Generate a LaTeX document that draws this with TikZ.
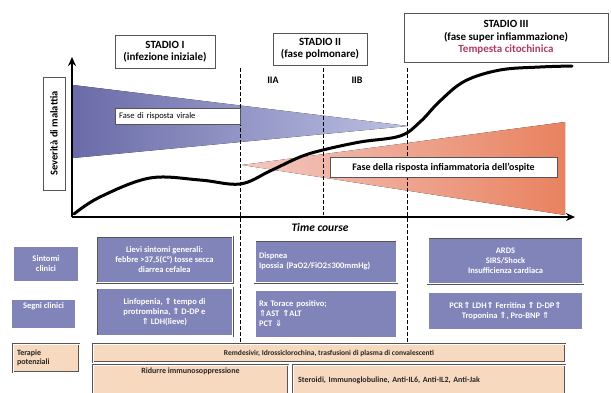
\documentclass[tikz,border=0pt]{standalone}
\usepackage{fontspec}
\setmainfont{Carlito}
\newfontfamily\simb{DejaVu Sans}
\newcommand{\su}{{\simb ⇑}}
\newcommand{\giu}{{\simb ⇓}}
\usetikzlibrary{positioning,arrows.meta}
\definecolor{viola}{HTML}{8184B8}
\definecolor{violascuro}{HTML}{6A6BA8}
\definecolor{violachiaro}{HTML}{BCC0E2}
\definecolor{pesca}{HTML}{F7D9BF}
\definecolor{rosa}{HTML}{F3C8C2}
\definecolor{arancio}{HTML}{E9825F}
\definecolor{cremisi}{HTML}{B23A5E}
\definecolor{bordo}{HTML}{555555}
\tikzset{
  stadiobox/.style={draw=bordo,fill=white,align=center,font=\fontsize{11}{12.5}\selectfont\bfseries,inner sep=1pt},
  fasebox/.style={draw=bordo,fill=white},
  blubox/.style={draw=bordo,double=white,double distance=1.2pt,fill=viola,text=white,
    font=\fontsize{8.5}{10}\selectfont\bfseries,inner sep=2pt},
  terabox/.style={draw=bordo,double=white,double distance=1pt,fill=pesca,text=black!85,
    font=\fontsize{8}{9.5}\selectfont\bfseries,inner sep=2pt},
  fase/.style={dashed,dash pattern=on 4pt off 2pt,line width=0.9pt}
}
\begin{document}
\begin{tikzpicture}[x=1pt,y=-1pt]
\useasboundingbox (0,0) rectangle (611,392);
% fasi
\fill[left color=violascuro,right color=violachiaro] (73,85) -- (408,126) -- (73,158) -- cycle;
\fill[left color=rosa,right color=arancio] (242,165) -- (565,122) -- (565,215) -- cycle;
% linee di stadio
\coordinate (s1a) at (240,68); \coordinate (s1b) at (240,345);
\coordinate (s2a) at (323,68); \coordinate (s2b) at (323,215);
\coordinate (s3a) at (407,68); \coordinate (s3b) at (407,345);
\draw[fase] (s1a) -- (s1b);
\draw[fase] (s2a) -- (s2b);
\draw[fase] (s3a) -- (s3b);
% assi
\coordinate (O) at (72,217);
\coordinate (ytop) at (72,57);
\coordinate (xend) at (575,217);
\draw[line width=2.6pt,-{Stealth[length=9pt,width=8pt]}] (O) -- (ytop);
\draw[line width=2.6pt,-{Stealth[length=9pt,width=8pt]}] (O) -- (xend);
% severita
\draw[line width=3pt,line cap=round] plot[smooth,tension=0.6] coordinates {(74,214) (100,197) (150,178) (200,180) (240,184)
  (270,171) (300,157) (323,150) (360,142) (400,136) (420,122) (440,101) (465,81) (500,70) (540,67) (572,66)};
% etichette
\node[stadiobox,minimum width=100,minimum height=33] (st1) at (165,51.5) {STADIO I\\(infezione iniziale)};
\node[stadiobox,minimum width=94,minimum height=32] (st2) at (320,49) {STADIO II\\(fase polmonare)};
\node[stadiobox,minimum width=204,minimum height=49] (st3) at (506,37.5) {STADIO III\\(fase super infiammazione)\\{\color{cremisi}Tempesta citochinica}};
\node[font=\fontsize{10}{11}\selectfont\bfseries] (iia) at (273,80) {IIA};
\node[font=\fontsize{10}{11}\selectfont\bfseries] (iib) at (357,80) {IIB};
\node[draw=bordo,fill=white,rotate=90,minimum width=113,minimum height=22,font=\fontsize{10.5}{12}\selectfont\bfseries] (sev) at (54,133.5) {Severità di malattia};
\node[fasebox,minimum width=125,minimum height=16,anchor=west,text width=117,font=\fontsize{8.5}{10}\selectfont] (virale) at (115,116) {Fase di risposta virale};
\node[fasebox,minimum width=227,minimum height=20,font=\fontsize{10}{11}\selectfont\bfseries] (infiam) at (443.5,167.5) {Fase della risposta infiammatoria dell'ospite};
\node[font=\fontsize{11.5}{13}\selectfont\bfseries\itshape] (time) at (320,228) {Time course};
% tabella
\node[blubox,minimum width=66,minimum height=36,align=center] (sintomi) at (46,264) {Sintomi\\clinici};
\node[blubox,minimum width=65,minimum height=30,align=center] (segni) at (43.5,314) {Segni clinici\\[7pt]};
\node[terabox,minimum width=66,minimum height=28,align=left,text width=58] (terapie) at (46,358) {Terapie\\potenziali};
\node[blubox,minimum width=136,minimum height=46,align=center] (sint1) at (164.5,259.5) {Lievi sintomi generali:\\febbre >37,5(C°) tosse secca\\diarrea cefalea};
\node[blubox,minimum width=136,minimum height=48,align=center] (segn1) at (164.5,312) {Linfopenia, \su\ tempo di\\protrombina, \su\ D-DP e\\\su\ LDH(lieve)};
\node[blubox,minimum width=142,minimum height=42,align=left,text width=134] (sint2) at (326,261.5) {Dispnea\\Ipossia (PaO2/FiO2≤300mmHg)};
\node[blubox,minimum width=142,minimum height=48,align=left,text width=134] (segn2) at (326,314) {Rx Torace positivo;\\\su AST \su ALT\\PCT \giu};
\node[blubox,minimum width=155,minimum height=46,align=center] (sint3) at (505.5,260.5) {ARDS\\SIRS/Shock\\Insufficienza cardiaca};
\node[blubox,minimum width=155,minimum height=38,align=center] (segn3) at (505.5,311) {PCR\su\ LDH\su\ Ferritina \su\ D-DP\su\\Troponina \su, Pro-BNP \su};
\node[terabox,minimum width=472,minimum height=18,font=\fontsize{7.5}{9}\selectfont\bfseries] (remd) at (329,353) {Remdesivir, Idrossiclorochina, trasfusioni di plasma di convalescenti};
\node[terabox,minimum width=195,minimum height=30,anchor=north,align=center] (ridurre) at (190.5,365) {Ridurre immunosoppressione\\[9pt]};
\node[terabox,minimum width=272,minimum height=30,anchor=north west,align=left,text width=262] (steroidi) at (293,365) {Steroidi, Immunoglobuline, Anti-IL6, Anti-IL2, Anti-Jak\\[9pt]};
\end{tikzpicture}
\end{document}
